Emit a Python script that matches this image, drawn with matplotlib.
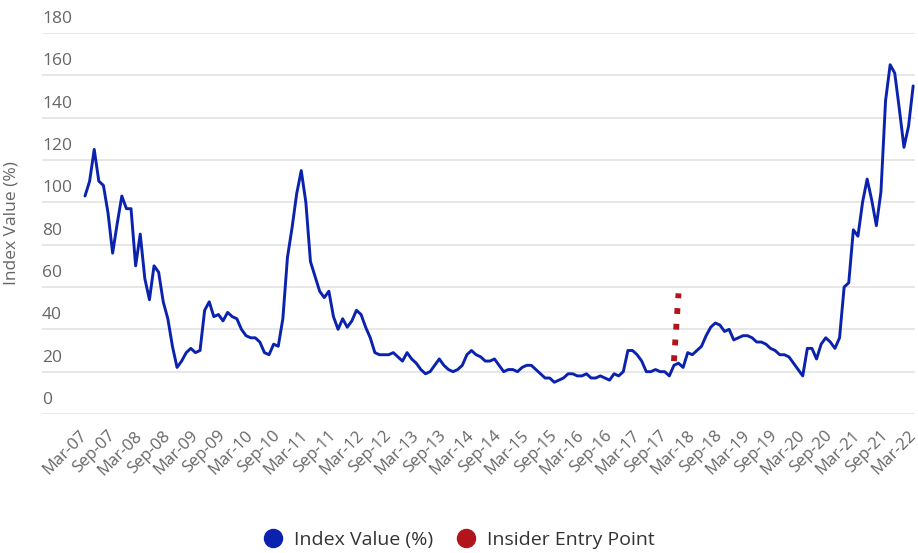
import matplotlib
matplotlib.use("Agg")
import matplotlib.pyplot as plt
from matplotlib.lines import Line2D
from matplotlib.transforms import offset_copy
import numpy as np
import pandas as pd

plt.rcParams['font.family'] = ['Open Sans', 'DejaVu Sans']

# monthly index values, Mar-07 .. Mar-22
index_values = [
    103, 110, 125, 110, 108, 95, 76, 90, 103, 97,
    97, 70, 85, 64, 54, 70, 67, 53, 45, 32,
    22, 25, 29, 31, 29, 30, 49, 53, 46, 47,
    44, 48, 46, 45, 40, 37, 36, 36, 34, 29,
    28, 33, 32, 45, 74, 88, 104, 115, 100, 72,
    65, 58, 55, 58, 46, 40, 45, 41, 44, 49,
    47, 41, 36, 29, 28, 28, 28, 29, 27, 25,
    29, 26, 24, 21, 19, 20, 23, 26, 23, 21,
    20, 21, 23, 28, 30, 28, 27, 25, 25, 26,
    23, 20, 21, 21, 20, 22, 23, 23, 21, 19,
    17, 17, 15, 16, 17, 19, 19, 18, 18, 19,
    17, 17, 18, 17, 16, 19, 18, 20, 30, 30,
    28, 25, 20, 20, 21, 20, 20, 18, 23, 24,
    22, 29, 28, 30, 32, 37, 41, 43, 42, 39,
    40, 35, 36, 37, 37, 36, 34, 34, 33, 31,
    30, 28, 28, 27, 24, 21, 18, 31, 31, 26,
    33, 36, 34, 31, 36, 60, 62, 87, 84, 100,
    111, 101, 89, 105, 148, 165, 161, 144, 126, 136,
    155,
]
months = pd.date_range('2007-03-01', periods=len(index_values), freq='MS')
month_labels = [d.strftime('%b-%y') for d in months]

# insider entry marker (two points)
insider_idx = [128, 129]
insider_values = [25, 57]

y_ticks = [0, 20, 40, 60, 80, 100, 120, 140, 160, 180]

blue = '#0a22ad'
red = '#b3141b'
grid_c = '#e3e3e3'
text_c = '#666666'

fig = plt.figure(figsize=(9.18, 5.53), dpi=100)
ax = fig.add_axes([42 / 918, 1 - 414 / 553, 873 / 918, 381 / 553])

x = np.arange(len(index_values))
ax.plot(x, index_values, color=blue, lw=2.1, solid_joinstyle='round',
        solid_capstyle='round', zorder=3)
ax.plot(insider_idx, insider_values, color=red, lw=4.2,
        linestyle=(0, (1.0, 1.7)), dash_capstyle='butt', zorder=4)

ax.set_xlim(-9.35, 180.4)
ax.set_ylim(0, 180)
ax.set_yticks(y_ticks)
ax.grid(axis='y', color=grid_c, lw=1.2)
ax.set_axisbelow(True)
for s in ax.spines.values():
    s.set_visible(False)

ax.tick_params(axis='y', left=False, labelleft=False)
trans = offset_copy(ax.get_yaxis_transform(), fig=fig, x=0, y=6, units='dots')
for v in y_ticks:
    ax.text(0, v, str(v), transform=trans, ha='left', va='bottom',
            fontsize=12.5, color=text_c)

tick_pos = x[::6]
ax.set_xticks(tick_pos)
ax.set_xticklabels(month_labels[::6], rotation=45, ha='right', va='center',
                   rotation_mode='anchor', fontsize=12, color=text_c)
ax.tick_params(axis='x', length=0, pad=14)

ax.set_ylabel('Index Value (%)', fontsize=12.5, color=text_c, labelpad=0)
ax.yaxis.set_label_coords(-22 / 873, 0.5)

handles = [
    Line2D([], [], marker='o', color='none', markerfacecolor=blue,
           markeredgecolor=blue, markersize=13, label='Index Value (%)'),
    Line2D([], [], marker='o', color='none', markerfacecolor=red,
           markeredgecolor=red, markersize=13, label='Insider Entry Point'),
]
fig.legend(handles=handles, loc='center', bbox_to_anchor=(0.5, 1 - 540 / 553),
           ncol=2, frameon=False, fontsize=14, labelcolor='#333333',
           handlelength=1.0, handletextpad=0.6, columnspacing=1.2)

fig.savefig('out.png', dpi=100)
